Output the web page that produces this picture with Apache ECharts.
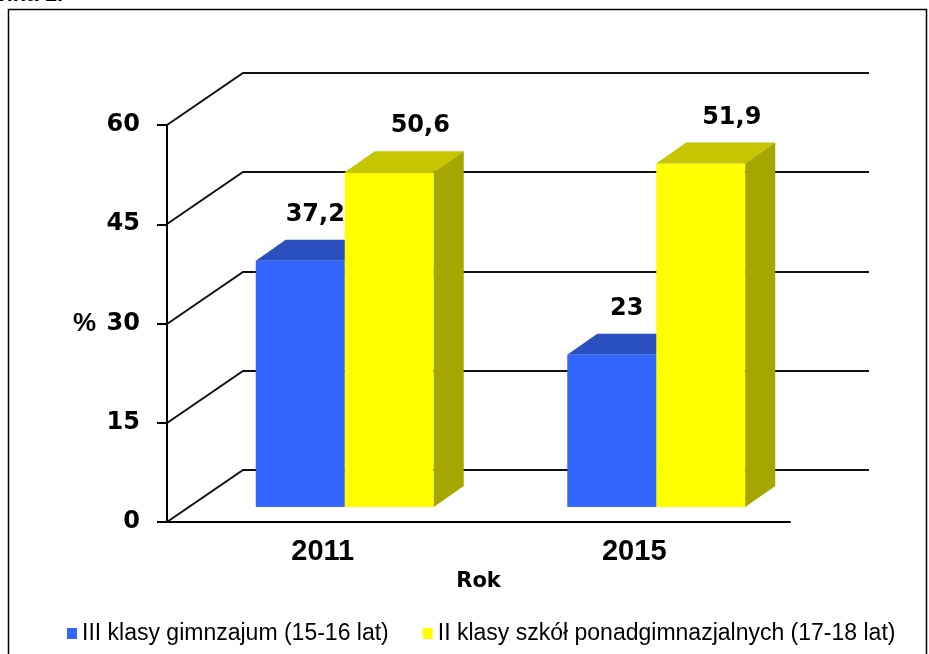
<!DOCTYPE html>
<html>
<head>
<meta charset="utf-8">
<script src="https://cdn.jsdelivr.net/npm/echarts@6/dist/echarts.min.js"></script>
<style>
  html, body { margin: 0; padding: 0; background: #fff; }
  #chart { width: 929px; height: 654px; }
</style>
</head>
<body>
<div id="chart"></div>
<script>
// data
const years = ['2011', '2015']
const gimnazjum = [37.2, 23]
const ponadgim = [50.6, 51.9]
const seriesNames = ['III klasy gimnzajum (15-16 lat)', 'II klasy szkół ponadgimnazjalnych (17-18 lat)']
const yTicks = [0, 15, 30, 45, 60]

// fake 3d look
const DX = 76, DY = -52          // depth of the walls
const FX = 22, FY = -15          // where the bar front sits inside the depth
const BX = 30, BY = -21          // bar depth
const BAR_RATIO = 0.2857
const faces = [
    { front: '#3366FF', top: '#2A50C0', side: '#1F3C99', labelShift: 0 },
    { front: '#FFFF00', top: '#C6C600', side: '#A6A600', labelShift: 16 }
]

const fmt = v => String(v).replace('.', ',')

const wallsRender = (params, api) => {
    const cs = params.coordSys
    const y = Math.round(api.coord([0, api.value(1)])[1])
    const left = cs.x
    const right = cs.x + cs.width + 79
    return {
        type: 'polyline',
        shape: { points: [[left, y], [left + DX, y + DY], [right, y + DY]] },
        style: { stroke: '#111', lineWidth: 2, fill: null }
    }
}

const barRender = (sIdx) => (params, api) => {
    const f = faces[sIdx]
    const cat = api.value(0)
    const val = api.value(1)
    const cc = api.coord([cat, 0])[0]
    const bandW = api.size([1, 0])[0]
    const w = bandW * BAR_RATIO
    const x0 = sIdx === 0 ? cc + FX - w : cc + FX
    const yb = api.coord([cat, 0])[1] + FY
    const yt = api.coord([cat, val])[1] + FY
    return {
        type: 'group',
        children: [
            { type: 'rect', shape: { x: x0, y: yt, width: w, height: yb - yt }, style: { fill: f.front } },
            {
                type: 'polygon',
                shape: { points: [[x0, yt], [x0 + BX, yt + BY], [x0 + w + BX, yt + BY], [x0 + w, yt]] },
                style: { fill: f.top }
            },
            {
                type: 'polygon',
                shape: { points: [[x0 + w, yt], [x0 + w + BX, yt + BY], [x0 + w + BX, yb + BY], [x0 + w, yb]] },
                style: { fill: f.side }
            },
            {
                type: 'text',
                style: {
                    x: x0 + w / 2 + BX / 2 + f.labelShift,
                    y: yt + BY - 25,
                    text: fmt(val),
                    align: 'center',
                    verticalAlign: 'middle',
                    font: 'bold 24px "DejaVu Sans"',
                    fill: '#000'
                }
            }
        ]
    }
}

const chart = echarts.init(document.getElementById('chart'))

const option = {
    animation: false,
    backgroundColor: '#fff',
    grid: { left: 167, top: 125, width: 623, height: 397 },
    graphic: [
        {
            type: 'rect',
            shape: { x: 8.5, y: 9.5, width: 918, height: 700 },
            style: { fill: null, stroke: '#000', lineWidth: 1.5 },
            z: 0
        },
        {
            type: 'text',
            style: {
                x: 63, y: 6, text: 'Rycina 1.',
                align: 'right', verticalAlign: 'bottom',
                font: 'bold 22px "Liberation Sans"', fill: '#000'
            }
        }
    ],
    legend: {
        data: seriesNames,
        left: 62,
        top: 617,
        icon: 'rect',
        itemWidth: 10,
        itemHeight: 11,
        itemGap: 34,
        textStyle: { fontFamily: 'Liberation Sans', fontSize: 23, color: '#000' }
    },
    xAxis: {
        type: 'category',
        data: years,
        name: 'Rok',
        nameLocation: 'middle',
        nameGap: 44,
        nameTextStyle: { fontFamily: 'DejaVu Sans', fontWeight: 'bold', fontSize: 21, color: '#000' },
        axisLine: { lineStyle: { color: '#000', width: 2 } },
        axisTick: { length: 8, lineStyle: { color: '#000', width: 2 } },
        axisLabel: {
            margin: 15,
            fontFamily: 'Liberation Sans', fontWeight: 'bold', fontSize: 29, color: '#000'
        },
        splitLine: { show: false }
    },
    yAxis: {
        type: 'value',
        min: 0,
        max: 60,
        interval: 15,
        name: '%',
        nameLocation: 'middle',
        nameRotate: 0,
        nameGap: 71,
        nameTextStyle: {
            fontFamily: 'Liberation Sans', fontWeight: 'bold', fontSize: 26, color: '#000',
            padding: [0, 0, 13, 0]
        },
        axisLine: { show: true, lineStyle: { color: '#000', width: 2 } },
        axisTick: { show: true, length: 10, lineStyle: { color: '#000', width: 2 } },
        axisLabel: {
            margin: 27,
            fontFamily: 'DejaVu Sans', fontWeight: 'bold', fontSize: 24, color: '#000'
        },
        splitLine: { show: false }
    },
    series: [
        {
            name: 'walls',
            type: 'custom',
            renderItem: wallsRender,
            data: yTicks.map(v => [0, v]),
            silent: true,
            z: 1
        },
        {
            name: seriesNames[0],
            type: 'custom',
            renderItem: barRender(0),
            itemStyle: { color: faces[0].front },
            data: gimnazjum.map((v, i) => [i, v]),
            z: 2
        },
        {
            name: seriesNames[1],
            type: 'custom',
            renderItem: barRender(1),
            itemStyle: { color: faces[1].front },
            data: ponadgim.map((v, i) => [i, v]),
            z: 3
        }
    ]
}

chart.setOption(option)
</script>
</body>
</html>
